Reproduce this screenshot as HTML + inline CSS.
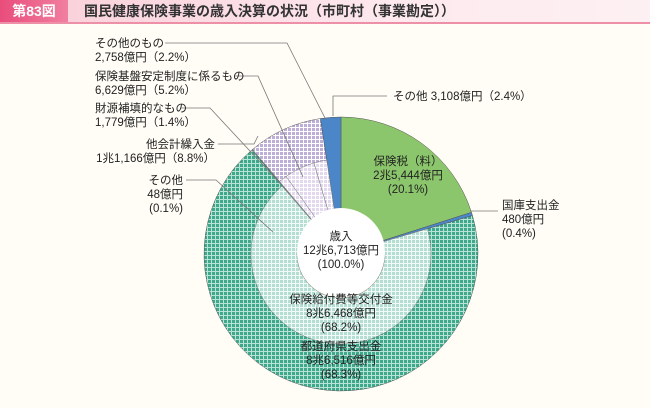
<!DOCTYPE html>
<html><head><meta charset="utf-8"><style>
body{margin:0;background:#fffdf6;}
#wrap{position:relative;width:650px;height:408px;overflow:hidden;background:#fffdf6;font-family:"Liberation Sans","Noto Sans CJK JP",sans-serif;}
#title{position:absolute;left:0;top:0;width:650px;height:22px;background:linear-gradient(90deg,#f9cdd8,#fde9ee 60%,#fdf0f3);border-bottom:2px solid #ee8fa8;}
#fig{position:absolute;left:0;top:0;width:68px;height:22px;background:linear-gradient(90deg,#e94d7c,#f07fa0);color:#fff;font-weight:bold;font-size:14px;line-height:22px;text-align:center;}
#ttext{position:absolute;left:84px;top:0;line-height:22px;font-size:14px;color:#333;font-weight:bold;}
svg text{font-family:"Liberation Sans","Noto Sans CJK JP",sans-serif;font-size:11.5px;fill:#222;}
</style></head><body>
<div id="wrap">
<div id="title">
<div id="fig">第83図</div>
<div id="ttext">国民健康保険事業の歳入決算の状況（市町村（事業勘定））</div>
</div>
<svg id="chart" width="650" height="408" style="position:absolute;left:0;top:0">
<defs>
<pattern id="pDG" width="4" height="4" patternUnits="userSpaceOnUse"><rect width="4" height="4" fill="#b9e3d6"/><rect width="3" height="3" fill="#3fa88b"/></pattern>
<pattern id="pLG" width="4" height="4" patternUnits="userSpaceOnUse"><rect width="4" height="4" fill="#f2faf7"/><rect width="3" height="3" fill="#b3ded1"/></pattern>
<pattern id="pPU" width="4" height="4" patternUnits="userSpaceOnUse"><rect width="4" height="4" fill="#ffffff"/><rect width="3" height="3" fill="#bcaed6"/></pattern>
<pattern id="pLP" width="4" height="4" patternUnits="userSpaceOnUse"><rect width="4" height="4" fill="#ffffff"/><rect width="3" height="3" fill="#e2d9ee"/></pattern>
</defs>
<g id="marks"></g>
<g id="labels" stroke="none"></g>
</svg>
</div>
<script>
// outer categories (clockwise from top)
const outerNames = ["保険税（料）","国庫支出金","都道府県支出金","その他","他会計繰入金","その他2"];
const outerValues = [20.1, 0.4, 68.3, 0.1, 8.8, 2.4];
// full-depth flag: slices reaching the centre circle
const fullDepth = [true, true, false, false, false, true];
// inner ring breakdown
const innerNames = ["保険給付費等交付金","都道府県残り","その他","財源補填的なもの","保険基盤安定制度に係るもの","その他のもの"];
const innerValues = [68.2, 0.1, 0.1, 1.4, 5.2, 2.2];

const NS="http://www.w3.org/2000/svg";
const cx=341, cy=254, R=137, Rin=90, Rc=44;
const total=outerValues.reduce((a,b)=>a+b,0);
function ang(v){return v/total*Math.PI*2;}
function pt(x,y,r,a){return [x+r*Math.sin(a), y-r*Math.cos(a)];}
function arcPath(x,y,r0,r1,a0,a1){
  const L=(a1-a0)>Math.PI?1:0;
  const p0=pt(x,y,r1,a0),p1=pt(x,y,r1,a1),p2=pt(x,y,r0,a1),p3=pt(x,y,r0,a0);
  return `M${p0} A${r1},${r1} 0 ${L} 1 ${p1} L${p2} A${r0},${r0} 0 ${L} 0 ${p3} Z`;
}
const g=document.getElementById('marks');
const outerFill=["#8cc66c","#4a86c8","url(#pDG)","url(#pDG)","url(#pPU)","#4a86c8"];
let a=0;
const starts=[];
outerValues.forEach((v,i)=>{
  const a1=a+ang(v); starts.push([a,a1]);
  const p=document.createElementNS(NS,'path');
  p.setAttribute('d',arcPath(cx,cy,fullDepth[i]?Rc:Rin-2,R,a,a1));
  p.setAttribute('fill',outerFill[i]);
  p.setAttribute('stroke','#555');p.setAttribute('stroke-width','0.5');
  
  
  g.appendChild(p);
  a=a1;
});
let b=starts[2][0];
const innerFill=["url(#pLG)","url(#pLG)","url(#pLG)","url(#pLP)","url(#pLP)","url(#pLP)"];
innerValues.forEach((v,i)=>{
  const b1=b+ang(v);
  const p=document.createElementNS(NS,'path');
  p.setAttribute('d',arcPath(cx,cy,Rc,Rin+(i>=3?5:0),b,b1));
  p.setAttribute('fill',innerFill[i]);
  p.setAttribute('stroke','#777');p.setAttribute('stroke-width','0.5');
  
  
  g.appendChild(p);
  b=b1;
});
const c=document.createElementNS(NS,'circle');
c.setAttribute('cx',cx);c.setAttribute('cy',cy-2);c.setAttribute('r',Rc);c.setAttribute('fill','#fff');


g.appendChild(c);

const leaders=[
 "M165,43 L287,43 L326,120",
 "M234,76 L258,76 L303,177",
 "M181,108 L210,108 L289,193",
 "M218,144 L254,144 L258,136",
 "M186,180 L216,180 L273,232",
 "M387,96 L333,96 L333,116",
 "M498,211 L470,211"
];
leaders.forEach((d,i)=>{
  const p=document.createElementNS(NS,'path');
  p.setAttribute('d',d);p.setAttribute('fill','none');p.setAttribute('stroke','#777');p.setAttribute('stroke-width','0.8');
  
  
  g.appendChild(p);
});
const lb=document.getElementById('labels');
const texts=[
 [95,47,"その他のもの","start","label"],
 [95,61,"2,758億円（2.2%）","start","label"],
 [95,80,"保険基盤安定制度に係るもの","start","label"],
 [95,94,"6,629億円（5.2%）","start","label"],
 [95,112,"財源補填的なもの","start","label"],
 [95,126,"1,779億円（1.4%）","start","label"],
 [215,148,"他会計繰入金","end","label"],
 [215,162,"1兆1,166億円（8.8%）","end","label"],
 [183,184,"その他","end","label"],
 [183,198,"48億円","end","label"],
 [183,212,"(0.1%)","end","label"],
 [393,100,"その他  3,108億円（2.4%）","start","label"],
 [502,209,"国庫支出金","start","label"],
 [502,223,"480億円","start","label"],
 [502,237,"(0.4%)","start","label"],
 [408,165,"保険税（料）","middle","slice-label"],
 [408,179,"2兆5,444億円","middle","slice-label"],
 [408,193,"(20.1%)","middle","slice-label"],
 [341,240,"歳入","middle","center-label"],
 [341,254,"12兆6,713億円","middle","center-label"],
 [341,268,"(100.0%)","middle","center-label"],
 [341,303,"保険給付費等交付金","middle","slice-label"],
 [341,317,"8兆6,468億円","middle","slice-label"],
 [341,331,"(68.2%)","middle","slice-label"],
 [341,350,"都道府県支出金","middle","slice-label"],
 [341,364,"8兆6,516億円","middle","slice-label"],
 [341,378,"(68.3%)","middle","slice-label"]
];
texts.forEach(t=>{
  const e=document.createElementNS(NS,'text');
  e.setAttribute('x',t[0]);e.setAttribute('y',t[1]);e.setAttribute('text-anchor',t[3]);
  e.textContent=t[2];
  
  
  lb.appendChild(e);
});
</script>
</body></html>
